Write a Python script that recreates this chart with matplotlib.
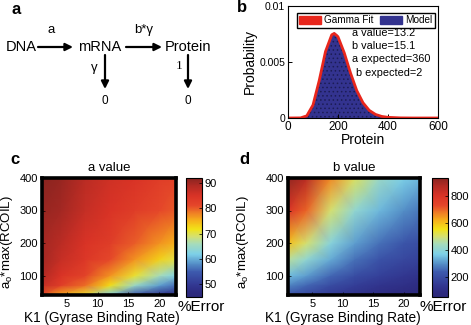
import numpy as np
import matplotlib
matplotlib.use("Agg")
import matplotlib.pyplot as plt
from matplotlib.colors import LinearSegmentedColormap
from matplotlib.patches import Patch

plt.rcParams['font.family'] = ['Liberation Sans', 'DejaVu Sans']
plt.rcParams['mathtext.default'] = 'regular'
plt.rcParams['hatch.linewidth'] = 0.6

# panel b: protein distribution
protein = [0, 50, 75, 100, 125, 150, 175, 185, 200, 225, 250, 275, 300, 325, 350, 375, 400, 450, 500, 600]
gamma_fit = [0, 0.00001, 0.00019, 0.00116, 0.00336, 0.00594, 0.00743, 0.00755, 0.00725, 0.00582,
             0.00402, 0.00245, 0.00136, 0.00068, 0.00032, 0.00014, 0.00006, 0.00001, 0, 0]
model = [0, 0, 0.00015, 0.00110, 0.00330, 0.00590, 0.00745, 0.00765, 0.00740, 0.00590,
         0.00400, 0.00240, 0.00132, 0.00064, 0.00030, 0.00012, 0.00005, 0, 0, 0]
fit_text = ["a value=13.2", "b value=15.1", "a expected=360", "b expected=2"]

# panels c, d: % error maps
k1_grid = [1, 4, 8, 12, 16, 20, 23]
rcoil_grid = [40, 70, 100, 150, 200, 300, 400]
a_error = [
    [82, 76, 71, 62, 54, 48, 46],
    [87, 83, 79, 72, 65, 59, 56],
    [89, 85, 82, 77, 71, 66, 62],
    [90, 87, 84, 81, 77, 73, 70],
    [90, 88, 85, 83, 80, 77, 75],
    [91, 90, 87, 85, 83, 81, 80],
    [92, 91, 88, 86, 85, 83, 82],
]
b_error = [
    [210, 190, 150, 120, 100, 80, 70],
    [290, 255, 200, 160, 130, 110, 95],
    [350, 315, 255, 205, 170, 140, 120],
    [470, 410, 330, 265, 220, 190, 170],
    [600, 500, 390, 315, 265, 225, 200],
    [800, 700, 500, 410, 345, 300, 270],
    [920, 860, 660, 510, 425, 370, 340],
]

stops = [(0.0, '#2b2878'), (0.04, '#2d2a80'), (0.106, '#333a94'), (0.21, '#3d5aad'),
         (0.28, '#5590c8'), (0.36, '#7dd0e8'), (0.45, '#a8dcb8'), (0.51, '#d5e070'),
         (0.57, '#f2e218'), (0.64, '#f6b41a'), (0.70, '#f08424'), (0.77, '#e5462a'),
         (0.85, '#d93326'), (0.94, '#b02a24'), (1.0, '#8a2420')]
cmap = LinearSegmentedColormap.from_list('err', stops)

W, H = 471, 325
fig = plt.figure(figsize=(W / 100, H / 100), dpi=100)


def box(l, t, r, b):
    return [l / W, 1 - b / H, (r - l) / W, (b - t) / H]


# ---- panel a: reaction scheme ----
ax_a = fig.add_axes([0, 0, 1, 1])
ax_a.set_xlim(0, W)
ax_a.set_ylim(H, 0)
ax_a.axis('off')
arr = dict(arrowstyle='-|>', lw=1.6, color='k', mutation_scale=11, shrinkA=0, shrinkB=0)
ax_a.text(21, 47, 'DNA', ha='center', va='center', fontsize=10.5)
ax_a.text(100, 47, 'mRNA', ha='center', va='center', fontsize=10.5)
ax_a.text(188, 47, 'Protein', ha='center', va='center', fontsize=10.5)
ax_a.annotate('', xy=(73, 47), xytext=(38, 47), arrowprops=arr)
ax_a.annotate('', xy=(162, 47), xytext=(126, 47), arrowprops=arr)
ax_a.annotate('', xy=(105, 89), xytext=(105, 55), arrowprops=arr)
ax_a.annotate('', xy=(188, 89), xytext=(188, 55), arrowprops=arr)
ax_a.text(51, 30, 'a', ha='center', va='center', fontsize=9.5)
ax_a.text(144, 30, 'b*γ', ha='center', va='center', fontsize=9.5)
ax_a.text(94, 68, 'γ', ha='center', va='center', fontsize=9.5)
ax_a.text(179, 66, '1', ha='center', va='center', fontsize=9.5, family=['Liberation Serif'])
ax_a.text(105, 101, '0', ha='center', va='center', fontsize=8.5)
ax_a.text(188, 101, '0', ha='center', va='center', fontsize=8.5)
for lab, x, y in [('a', 16, 9), ('b', 242, 8), ('c', 15, 160), ('d', 244, 159)]:
    ax_a.text(x, y, lab, ha='center', va='center', fontsize=12, fontweight='bold')

# ---- panel b ----
ax_b = fig.add_axes(box(288, 6, 438, 118))
ax_b.fill_between(protein, model, color='#33338f', hatch='....', edgecolor='#1c1c55', linewidth=0)
ax_b.plot(protein, gamma_fit, color='#e8261c', lw=2.0)
ax_b.set_xlim(0, 600)
ax_b.set_ylim(0, 0.01)
ax_b.set_xticks([0, 200, 400, 600])
ax_b.set_yticks([0, 0.005, 0.01])
ax_b.set_yticklabels(['0', '0.005', '0.01'])
ax_b.tick_params(direction='in', length=3, width=0.7, labelsize=7.5, pad=2)
ax_b.tick_params(axis='x', labelsize=8.5)
for s in ax_b.spines.values():
    s.set_linewidth(0.8)
ax_b.set_xlabel('Protein', fontsize=10, labelpad=0)
ax_b.set_ylabel('Probability', fontsize=10, labelpad=2)
handles = [Patch(facecolor='#e8261c', edgecolor='#e8261c'), Patch(facecolor='#33338f', edgecolor='#33338f')]
ax_b.legend(handles, ['Gamma Fit', 'Model'], ncol=2, loc='upper right', bbox_to_anchor=(1.01, 0.985),
            fontsize=7.2, handlelength=2.2, handleheight=0.8, columnspacing=0.6, handletextpad=0.3,
            borderpad=0.25, fancybox=False, framealpha=1, edgecolor='k')
for i, t in enumerate(fit_text):
    ax_b.text(0.427 if i < 3 else 0.45, 0.76 - i * 0.118, t, transform=ax_b.transAxes,
              fontsize=7.8, va='center', ha='left')

# ---- panels c and d ----
panels = [
    (a_error, 'a value', 42, 176, 186, 202, 45, 92, [50, 60, 70, 80, 90], 15, 102, 177),
    (b_error, 'b value', 288, 420, 432, 448, 55, 930, [200, 400, 600, 800], 251, 343, 420),
]
for data, title, l, r, cl, cr, vmin, vmax, cticks, ylab_x, xlab_x, err_x in panels:
    ax = fig.add_axes(box(l, 178, r, 295))
    mesh = ax.pcolormesh(k1_grid, rcoil_grid, np.array(data), shading='gouraud',
                         cmap=cmap, vmin=vmin, vmax=vmax)
    ax.set_xlim(1, 22.7)
    ax.set_ylim(40, 400)
    ax.set_xticks([5, 10, 15, 20])
    ax.set_yticks([100, 200, 300, 400])
    ax.tick_params(direction='in', length=2, width=0.5, labelsize=8, pad=3)
    for s in ax.spines.values():
        s.set_linewidth(2.6)
    ax.set_title(title, fontsize=9.5, pad=5)
    ax.set_xlabel('K1 (Gyrase Binding Rate)', fontsize=9.8)
    ax.set_ylabel('a$_o$*max(RCOIL)', fontsize=9.5)
    ax.xaxis.set_label_coords((xlab_x - l) / (r - l), -0.135)
    ax.yaxis.set_label_coords((ylab_x - l) / (r - l), 0.45)
    cax = fig.add_axes(box(cl, 178, cr, 297))
    cb = fig.colorbar(mesh, cax=cax, ticks=cticks)
    cb.outline.set_linewidth(0.8)
    cax.tick_params(direction='in', length=2, width=0.5, labelsize=8, pad=2)
    fig.text(err_x / W, 1 - 307 / H, '%Error', fontsize=11, ha='left', va='center')

fig.savefig('out.png', dpi=100)
